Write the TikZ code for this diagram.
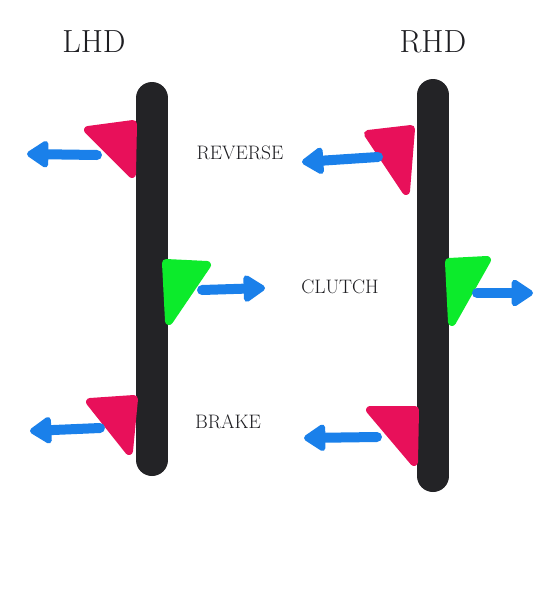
\documentclass[tikz,border=0pt]{standalone}
\usepackage{tikz}
\usetikzlibrary{arrows.meta}

\definecolor{barblack}{HTML}{232326}
\definecolor{pedalred}{HTML}{E8105A}
\definecolor{pedalgreen}{HTML}{0CEB2B}
\definecolor{pushblue}{HTML}{1A80EA}
\definecolor{inkgrey}{HTML}{1E1E22}

\tikzset{
  column/.style={line width=32pt,line cap=round,draw=barblack},
  redpedal/.style={fill=pedalred,draw=pedalred,line width=8pt,line join=round},
  greenpedal/.style={fill=pedalgreen,draw=pedalgreen,line width=8pt,line join=round},
  push/.style={line width=10pt,draw=pushblue,line cap=round,
    -{Triangle[width=30pt,length=24pt,round]}},
  side/.style={text=inkgrey,font=\fontsize{32}{32}\selectfont},
  pedalname/.style={text=inkgrey,font=\fontsize{19.5}{19.5}\selectfont}
}

\begin{document}
\begin{tikzpicture}[x=1pt,y=-1pt]
  \useasboundingbox[fill=white] (0,0) rectangle (540,600);

  % titles
  \node[side] (lhd) at (94,42) {LHD};
  \node[side] (rhd) at (433,42) {RHD};

  % pedal labels
  \node[pedalname] (reverse) at (240,153) {REVERSE};
  \node[pedalname] (clutch) at (340,287) {CLUTCH};
  \node[pedalname] (brake) at (228,422) {BRAKE};

  % LHD
  \draw[column] (152,98) -- (152,460);
  \filldraw[redpedal] (88,130) -- (133,124) -- (132,174) -- cycle;
  \filldraw[greenpedal] (166,263) -- (207,265) -- (169,321) -- cycle;
  \filldraw[redpedal] (90,402) -- (134,399) -- (129,451) -- cycle;
  \coordinate (lrs) at (97,155);  \coordinate (lre) at (27,154);
  \coordinate (lcs) at (202,290); \coordinate (lce) at (265,288);
  \coordinate (lbs) at (100,428); \coordinate (lbe) at (30,431);
  \draw[push] (lrs) -- (lre);
  \draw[push] (lcs) -- (lce);
  \draw[push] (lbs) -- (lbe);

  % RHD
  \draw[column] (433,95) -- (433,476);
  \filldraw[redpedal] (368,134) -- (411,129) -- (406,191) -- cycle;
  \filldraw[greenpedal] (449,262) -- (487,260) -- (452,322) -- cycle;
  \filldraw[redpedal] (370,410) -- (415,410) -- (414,462) -- cycle;
  \coordinate (rrs) at (378,157); \coordinate (rre) at (302,162);
  \coordinate (rcs) at (477,293); \coordinate (rce) at (533,293);
  \coordinate (rbs) at (377,437); \coordinate (rbe) at (304,438);
  \draw[push] (rrs) -- (rre);
  \draw[push] (rcs) -- (rce);
  \draw[push] (rbs) -- (rbe);
\end{tikzpicture}
\end{document}
